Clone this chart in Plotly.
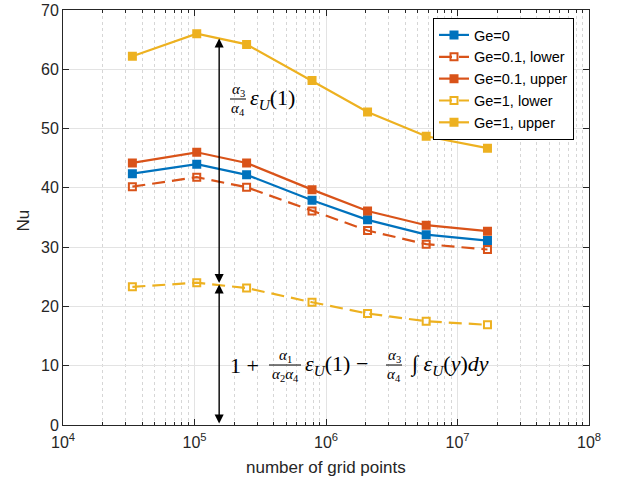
import numpy as np
import plotly.graph_objects as go

# ---------------- data ----------------
grid_points = [33700, 104000, 249000, 783000, 2070000, 5780000, 16900000]
nu_ge0 = [42.4, 44.0, 42.2, 37.9, 34.6, 32.1, 31.1]
nu_ge01_lower = [40.2, 41.8, 40.1, 36.1, 32.8, 30.5, 29.6]
nu_ge01_upper = [44.2, 46.0, 44.2, 39.7, 36.1, 33.7, 32.7]
nu_ge1_lower = [23.3, 24.0, 23.1, 20.7, 18.8, 17.5, 16.9]
nu_ge1_upper = [62.2, 66.0, 64.2, 58.1, 52.8, 48.7, 46.7]

series_names = ["Ge=0", "Ge=0.1, lower", "Ge=0.1, upper", "Ge=1, lower", "Ge=1, upper"]
series_values = [nu_ge0, nu_ge01_lower, nu_ge01_upper, nu_ge1_lower, nu_ge1_upper]
series_colors = ["#0072BD", "#D95319", "#D95319", "#EDB120", "#EDB120"]
series_dash = ["solid", "13px,7px", "solid", "13px,7px", "solid"]
series_symbol = ["square", "square-open", "square", "square-open", "square"]

# arrow (x position, lower/middle/upper Nu values)
arrow_x = 154000
arrow_levels = [0.0, 23.7, 65.2]

x_tick_vals = [1e4, 1e5, 1e6, 1e7, 1e8]
x_tick_text = ["10<sup>4</sup>", "10<sup>5</sup>", "10<sup>6</sup>", "10<sup>7</sup>", "10<sup>8</sup>"]
y_tick_vals = [0, 10, 20, 30, 40, 50, 60, 70]

# ---------------- figure ----------------
fig = go.Figure()
for name, vals, col, dash, sym in zip(series_names, series_values, series_colors,
                                      series_dash, series_symbol):
    fig.add_trace(go.Scatter(
        x=grid_points, y=vals, name=name, mode="lines+markers",
        line=dict(color=col, width=2.2, dash=dash),
        marker=dict(symbol=sym, size=7, color=col, line=dict(color=col, width=2)),
    ))

L, R, T, B = 63, 589, 10, 425
W, H = 619, 484


def pp(px, py):
    return (px - L) / (R - L), (B - py) / (B - T)


annotations = []
shapes = []

# arrows
ax_log = np.log10(arrow_x)
for lo, hi in zip(arrow_levels[:-1], arrow_levels[1:]):
    annotations.append(dict(
        x=ax_log, y=hi, ax=ax_log, ay=lo, xref="x", yref="y", axref="x", ayref="y",
        text="", showarrow=True, arrowhead=2, startarrowhead=2, arrowside="end+start",
        arrowsize=1.3, startarrowsize=1.3, arrowwidth=1.4, arrowcolor="black",
        standoff=0, startstandoff=0,
    ))

MF = "Liberation Serif"


def txt(s, px, py, size, xanchor="left", family=MF, color="black", angle=0):
    x, y = pp(px, py)
    annotations.append(dict(
        x=x, y=y, xref="paper", yref="paper", text=s, showarrow=False,
        xanchor=xanchor, yanchor="middle", textangle=angle,
        font=dict(family=family, size=size, color=color),
    ))


def frac(num, den, cx, cy, half, size=15):
    txt(num, cx, cy - 9, size, "center")
    txt(den, cx, cy + 9.5, size, "center")
    x0, y0 = pp(cx - half, cy)
    x1, _ = pp(cx + half, cy)
    shapes.append(dict(type="line", xref="paper", yref="paper", x0=x0, x1=x1, y0=y0, y1=y0,
                       line=dict(color="black", width=1)))


eps_u = "<i>ε</i><sub><i>U</i></sub>"
# formula 1
frac("<i>α</i><sub>3</sub>", "<i>α</i><sub>4</sub>", 238, 99, 8)
txt(eps_u + "(1)", 248, 99, 22)
# formula 2
txt("1 + ", 228, 365, 22)
frac("<i>α</i><sub>1</sub>", "<i>α</i><sub>2</sub><i>α</i><sub>4</sub>", 285, 365, 16)
txt(eps_u + "(1) − ", 303, 365, 22)
frac("<i>α</i><sub>3</sub>", "<i>α</i><sub>4</sub>", 394, 365, 8)
txt("∫ " + eps_u + "(<i>y</i>)<i>dy</i>", 408, 365, 22)

axis_col = "#262626"
grid_col = "#e3e3e3"
tick_font = dict(family="Liberation Sans", size=16, color=axis_col)

# axis titles
txt("number of grid points", (L + R) / 2, 467, 17, "center", "Liberation Sans", axis_col)
txt("Nu", 23, (T + B) / 2 + 3, 17, "center", "Liberation Sans", axis_col, -90)

fig.update_layout(
    width=W, height=H, autosize=False,
    margin=dict(l=L, r=W - R, t=T, b=H - B),
    paper_bgcolor="white", plot_bgcolor="white",
    showlegend=True,
    legend=dict(x=(574 - L) / (R - L), y=(B - 18) / (B - T), xanchor="right", yanchor="top",
                bgcolor="white", bordercolor="black", borderwidth=1,
                font=dict(family="Liberation Sans", size=14.5, color="black"),
                tracegroupgap=0, itemwidth=30),
    annotations=annotations, shapes=shapes,
)
fig.update_xaxes(
    type="log", range=[4, 8], tickvals=x_tick_vals, ticktext=x_tick_text,
    showline=True, linecolor=axis_col, linewidth=1, mirror="ticks",
    ticks="inside", ticklen=6, tickcolor=axis_col, tickfont=tick_font, ticklabelstandoff=3,
    showgrid=True, gridcolor=grid_col, gridwidth=1, zeroline=False, automargin=False,
    minor=dict(ticks="inside", ticklen=3, tickcolor=axis_col, showgrid=True,
               gridcolor="#d6d6d6", griddash="dot", gridwidth=1, dtick="D1"),
)
fig.update_yaxes(
    range=[0, 70], tickvals=y_tick_vals,
    showline=True, linecolor=axis_col, linewidth=1, mirror="ticks",
    ticks="inside", ticklen=6, tickcolor=axis_col, tickfont=tick_font,
    showgrid=True, gridcolor=grid_col, gridwidth=1, zeroline=False, automargin=False,
)

fig.write_html("out.html", config={"displayModeBar": False})

# remove default browser body margin so the plot sits at the page origin
with open("out.html", "r", encoding="utf-8") as f:
    html = f.read()
html = html.replace("<body>", '<body style="margin:0;padding:0">', 1)
with open("out.html", "w", encoding="utf-8") as f:
    f.write(html)
